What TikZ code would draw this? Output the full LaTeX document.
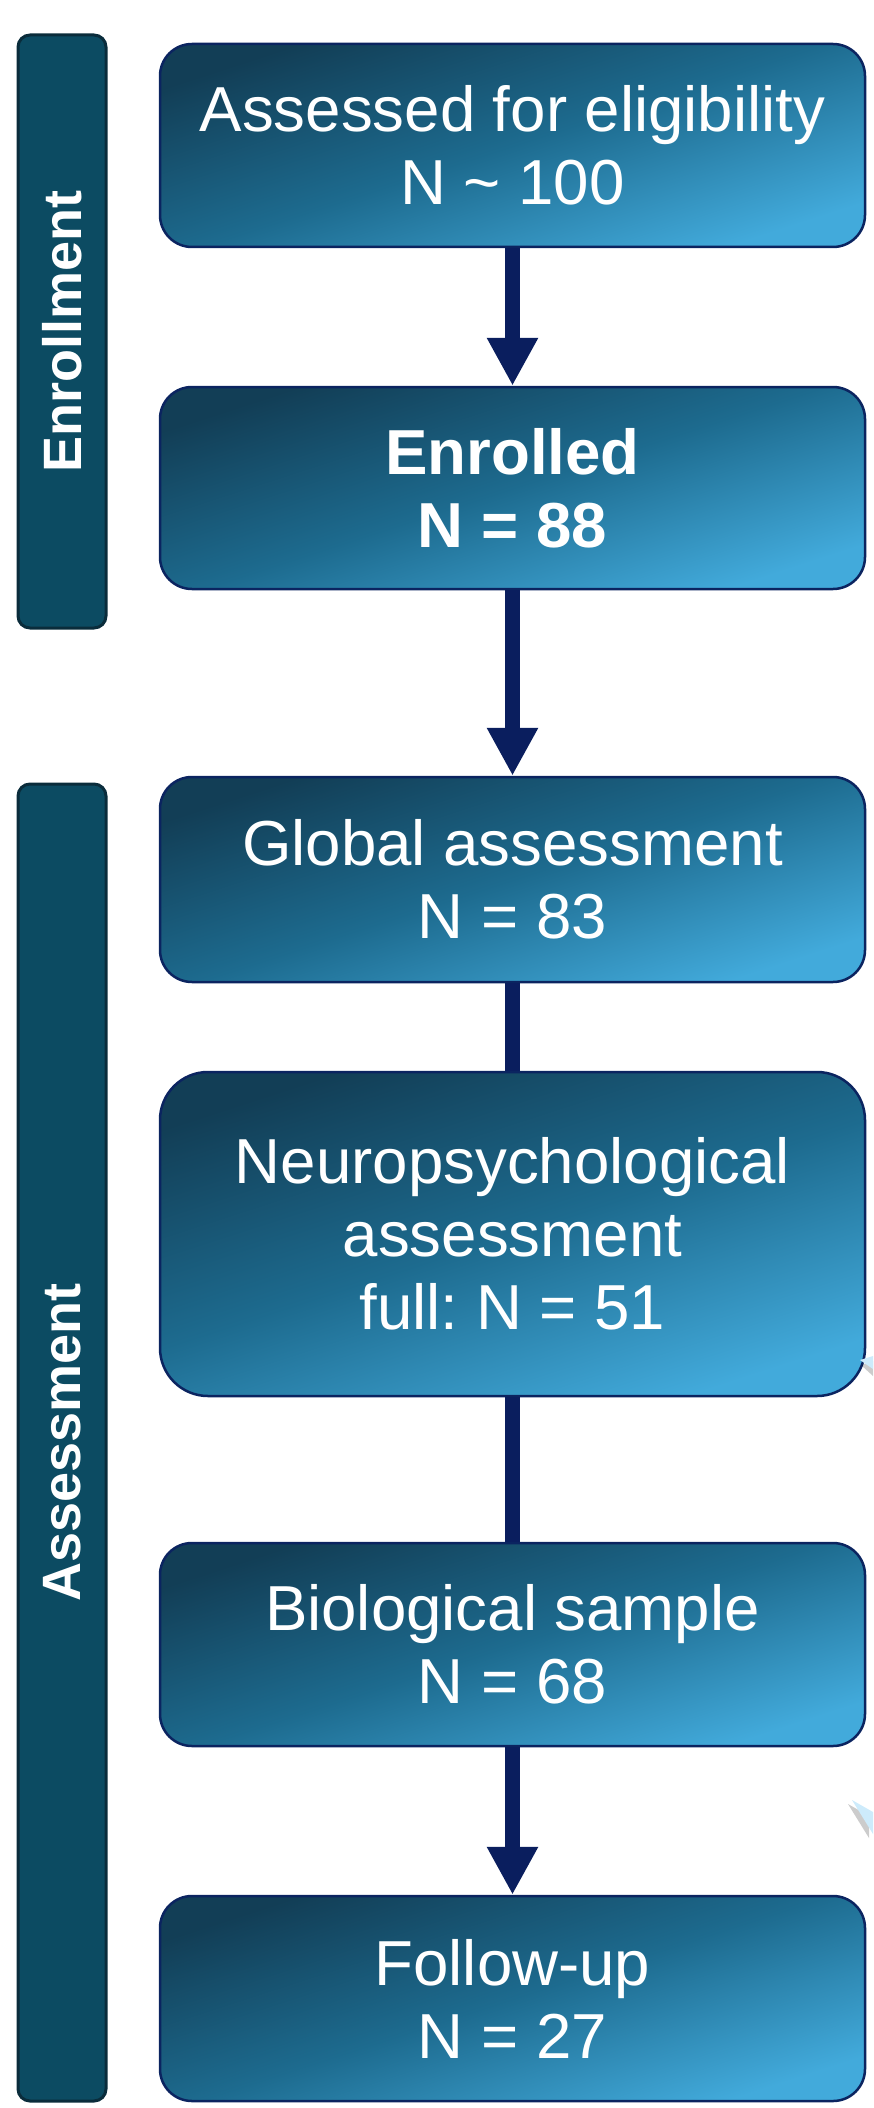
\documentclass[tikz,border=0pt]{standalone}
\usepackage{fontspec}
\setmainfont{Liberation Sans}
\usetikzlibrary{arrows.meta}
\definecolor{boxdark}{HTML}{123E56}
\definecolor{boxmid}{HTML}{1D6B8F}
\definecolor{boxlight}{HTML}{42AADB}
\definecolor{boxedge}{HTML}{0B2460}
\definecolor{barfill}{HTML}{0C4B62}
\definecolor{baredge}{HTML}{0A2C3B}
\definecolor{arrownavy}{HTML}{0A1E5E}
\definecolor{wedgeblue}{HTML}{CDEBFB}
\frenchspacing
\begin{document}
\begin{tikzpicture}[x=1pt,y=-1pt,
  flowbox/.style 2 args={draw=boxedge, line width=2.5pt, rounded corners=#2,
    top color=boxdark, bottom color=boxlight, middle color=boxmid, shading angle=18,
    minimum width=705pt, minimum height=#1, text=white, align=center,
    font=\fontsize{63.6}{73}\selectfont, inner sep=0pt},
  sidebar/.style={draw=baredge, line width=3pt, fill=barfill, rounded corners=12pt,
    minimum height=88pt, minimum width=#1, rotate=90, text=white,
    font=\fontsize{54}{60}\selectfont\bfseries, inner sep=0pt},
  flowline/.style={draw=arrownavy, line width=15pt},
  flowarrow/.style={flowline, -{Triangle[width=48pt,length=48pt]}},
  wedge/.style={fill=wedgeblue, draw=none},
  wedgeshadow/.style={fill=black, opacity=0.2, draw=none}
]
\useasboundingbox (0,0) rectangle (873,2108);
% side bars
\node[sidebar=593pt] (enr) at (62,331.5) {Enrollment};
\node[sidebar=1317pt] (ass) at (62,1442.5) {Assessment};
% flow boxes
\node[flowbox={203pt}{32pt}] (b1) at (512.5,145.5) {Assessed for eligibility\\N \textasciitilde{} 100};
\node[flowbox={202pt}{32pt}] (b2) at (512.5,488) {\bfseries Enrolled\\\bfseries N = 88};
\node[flowbox={205pt}{32pt}] (b3) at (512.5,879.5) {Global assessment\\N = 83};
\node[flowbox={324pt}{48pt}] (b4) at (512.5,1234) {Neuropsychological\\assessment\\full: N = 51};
\node[flowbox={203pt}{32pt}] (b5) at (512.5,1644.5) {Biological sample\\N = 68};
\node[flowbox={205pt}{32pt}] (b6) at (512.5,1998.5) {Follow-up\\N = 27};
% connectors
\draw[flowarrow] (b1.south) -- (b2.north);
\draw[flowarrow] (b2.south) -- (b3.north);
\draw[flowline] (b3.south) -- (b4.north);
\draw[flowline] (b4.south) -- (b5.north);
\draw[flowarrow] (b5.south) -- (b6.north);
% partial wedges at right edge
\fill[wedgeshadow] (861,1365) -- (873,1361) -- (873,1376) -- cycle;
\fill[wedge] (860,1360) -- (873,1356) -- (873,1369) -- cycle;
\fill[wedgeshadow] (848,1804) -- (869,1816) -- (869,1838) -- cycle;
\fill[wedge] (852,1800) -- (873,1812) -- (873,1834) -- cycle;
\end{tikzpicture}
\end{document}
